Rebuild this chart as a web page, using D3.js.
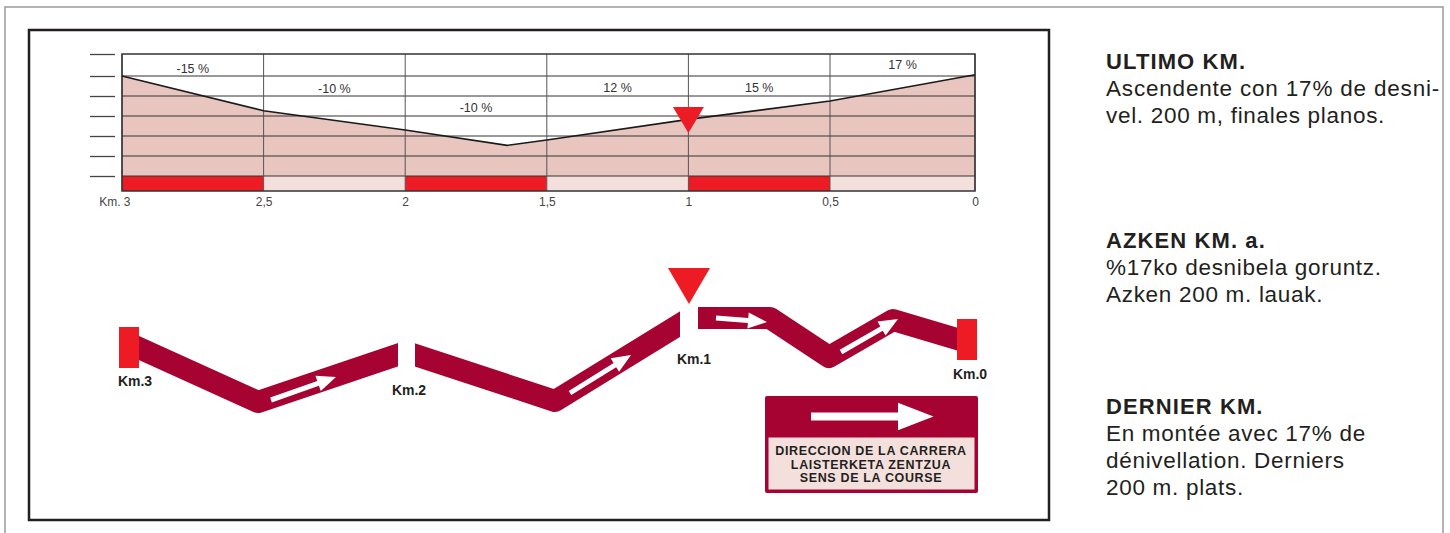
<!DOCTYPE html>
<html>
<head>
<meta charset="utf-8">
<script src="https://cdn.jsdelivr.net/npm/d3@7"></script>
<style>
body { margin: 0; background: #fff; }
svg { display: block; font-family: "Liberation Sans", Arial, sans-serif; }
</style>
</head>
<body>
<svg id="chart" width="1450" height="533"></svg>
<script>
// ---- profile of the last 3 km ----
const kmTicks = [3, 2.5, 2, 1.5, 1, 0.5, 0];
const elevTicks = [0, 10, 20, 30, 40, 50, 61];
const profileKm = [3, 2.5, 2, 1.64, 1.5, 1, 0.5, 0];
const profileElev = [50, 32.6, 23, 15.3, 18, 28.3, 37.5, 50.6];
const gradeLabels = ["-15 %", "-10 %", "-10 %", "12 %", "15 %", "17 %"];
const gradeLabelElev = [53.5, 43.5, 34, 44, 44, 55.5];
const flammeRougeKm = 1;

// ---- route map (schematic units) ----
const routeX = [29, 158, 306, 455, 590, 670, 729, 793, 867];
const routeY = [83.5, 142, 92, 141, 58, 58, 97, 60, 82];
const routeGaps = [[298, 315], [580, 598]];
const kmLabels = ["Km.3", "Km.2", "Km.1", "Km.0"];
const kmLabelX = [35, 309, 594, 870];
const kmLabelY = [121, 130, 99, 114];
const endMarkerX = [29, 867];
const endMarkerY = [87.5, 79.5];
const arrowFrom = [[171, 140], [470, 133], [616, 58], [741, 92]];
const arrowTo = [[236, 117], [531, 95], [667, 62], [798, 59]];

const legendLines = ["DIRECCION DE LA CARRERA", "LAISTERKETA ZENTZUA", "SENS DE LA COURSE"];

const notes = [
    {title: "ULTIMO KM.", lines: ["Ascendente con 17% de desni-", "vel. 200 m, finales planos."]},
    {title: "AZKEN KM. a.", lines: ["%17ko desnibela goruntz.", "Azken 200 m. lauak."]},
    {title: "DERNIER KM.", lines: ["En montée avec 17% de", "dénivellation. Derniers", "200 m. plats."]}
];

const red = "#ed1c24";
const wine = "#a60333";
const pink = "#f3e0dd";
const fillColor = "#e9c5bf";
const ink = "#231f20";

const svg = d3.select("#chart");

// frames
svg.append("path")
    .attr("d", "M5,540 V7 H1443 V540")
    .attr("fill", "none")
    .attr("stroke", "#9a9a9a")
    .attr("stroke-width", 1.5);
svg.append("rect")
    .attr("x", 29).attr("y", 30)
    .attr("width", 1020).attr("height", 490)
    .attr("fill", "none")
    .attr("stroke", ink)
    .attr("stroke-width", 2.5);

// ---------- profile ----------
// the last half km is drawn a touch wider in the original
const x = d3.scaleLinear().domain([3, 0.5, 0]).range([122, 830, 975]);
const y = d3.scaleLinear().domain([0, 50]).range([176, 76]);
const bandH = 15;
const plotTop = y(d3.max(elevTicks));
const base = y(0);

const prof = svg.append("g");
const pts = profileKm.map((k, i) => ({km: k, e: profileElev[i]}));

prof.append("path")
    .datum(pts)
    .attr("fill", fillColor)
    .attr("d", d3.area().x(d => x(d.km)).y0(base).y1(d => y(d.e)));

// coloured band under the profile
prof.selectAll("rect.band")
    .data(d3.range(kmTicks.length - 1))
    .enter()
    .append("rect")
        .attr("class", "band")
        .attr("x", i => x(kmTicks[i]))
        .attr("y", base)
        .attr("width", i => x(kmTicks[i + 1]) - x(kmTicks[i]))
        .attr("height", bandH)
        .attr("fill", i => i % 2 == 0 ? red : pink);

// grid
prof.selectAll("line.h")
    .data(elevTicks.slice(0, -1))
    .enter()
    .append("line")
        .attr("x1", x(3)).attr("x2", x(0))
        .attr("y1", d => y(d)).attr("y2", d => y(d))
        .attr("stroke", "#333").attr("stroke-width", 1);
prof.selectAll("line.v")
    .data(kmTicks)
    .enter()
    .append("line")
        .attr("x1", d => x(d)).attr("x2", d => x(d))
        .attr("y1", plotTop).attr("y2", base + bandH)
        .attr("stroke", "#555").attr("stroke-width", 1);
prof.append("rect")
    .attr("x", x(3)).attr("y", plotTop)
    .attr("width", x(0) - x(3)).attr("height", base + bandH - plotTop)
    .attr("fill", "none").attr("stroke", "#333").attr("stroke-width", 1.5);

prof.append("path")
    .datum(pts)
    .attr("fill", "none")
    .attr("stroke", "#1a1a1a")
    .attr("stroke-width", 1.6)
    .attr("d", d3.line().x(d => x(d.km)).y(d => y(d.e)));

prof.selectAll("text.grade")
    .data(gradeLabels)
    .enter()
    .append("text")
        .attr("x", (d, i) => (x(kmTicks[i]) + x(kmTicks[i + 1])) / 2)
        .attr("y", (d, i) => y(gradeLabelElev[i]))
        .attr("dy", "0.35em")
        .attr("text-anchor", "middle")
        .attr("font-size", 12.5)
        .attr("fill", "#333")
        .text(d => d);

// flamme rouge on the profile
const frY = y(d3.scaleLinear().domain(profileKm).range(profileElev)(flammeRougeKm));
prof.append("path")
    .attr("d", `M${x(flammeRougeKm) - 15.5},${frY - 12.5} h31 L${x(flammeRougeKm)},${frY + 13.5}Z`)
    .attr("fill", red);

// left ticks
prof.append("g")
    .attr("transform", "translate(115,0)")
    .call(d3.axisLeft(y).tickValues(elevTicks).tickSize(25).tickFormat(""))
    .call(g => g.select(".domain").remove())
    .selectAll("line").attr("stroke", "#444").attr("stroke-width", 1.3);

// km axis labels
const xa = prof.append("g")
    .attr("transform", `translate(0,${base + bandH})`)
    .call(d3.axisBottom(x).tickValues(kmTicks).tickSize(0).tickPadding(6)
        .tickFormat(d => d == 3 ? "Km. 3" : String(d).replace(".", ",")));
xa.select(".domain").remove();
xa.selectAll("text")
    .attr("font-size", 12)
    .attr("font-family", "Liberation Sans, Arial, sans-serif")
    .attr("fill", "#444");
xa.selectAll("text").filter(d => d == 3)
    .attr("text-anchor", "end").attr("x", 8);

// ---------- route map ----------
const mx = d3.scaleLinear().domain([0, 900]).range([100, 1000]);
const my = d3.scaleLinear().domain([0, 200]).range([260, 460]);
const route = svg.append("g");

const clip = svg.append("defs").append("clipPath").attr("id", "routeclip");
const cuts = [-100].concat(routeGaps.flat()).concat([1100]);
for (let i = 0; i < cuts.length; i += 2) {
    clip.append("rect")
        .attr("x", mx(cuts[i])).attr("y", 0)
        .attr("width", mx(cuts[i + 1]) - mx(cuts[i]))
        .attr("height", 533);
}

route.append("path")
    .datum(routeX.map((v, i) => [v, routeY[i]]))
    .attr("clip-path", "url(#routeclip)")
    .attr("fill", "none")
    .attr("stroke", wine)
    .attr("stroke-width", 22)
    .attr("stroke-linejoin", "round")
    .attr("d", d3.line().x(d => mx(d[0])).y(d => my(d[1])));

route.selectAll("rect.end")
    .data(endMarkerX)
    .enter()
    .append("rect")
        .attr("x", d => mx(d) - 10)
        .attr("y", (d, i) => my(endMarkerY[i]) - 20.5)
        .attr("width", 20).attr("height", 41)
        .attr("fill", red);

// arrows along the route
function arrowPath(p0, p1, shaft, headL, headW) {
    const dx = p1[0] - p0[0], dy = p1[1] - p0[1];
    const len = Math.hypot(dx, dy);
    const ux = dx / len, uy = dy / len, nx = -uy, ny = ux;
    const bx = p1[0] - ux * headL, by = p1[1] - uy * headL;
    const P = (px, py) => `${px.toFixed(1)},${py.toFixed(1)}`;
    return "M" + [
        P(p0[0] + nx * shaft / 2, p0[1] + ny * shaft / 2),
        P(bx + nx * shaft / 2, by + ny * shaft / 2),
        P(bx + nx * headW / 2, by + ny * headW / 2),
        P(p1[0], p1[1]),
        P(bx - nx * headW / 2, by - ny * headW / 2),
        P(bx - nx * shaft / 2, by - ny * shaft / 2),
        P(p0[0] - nx * shaft / 2, p0[1] - ny * shaft / 2)
    ].join("L") + "Z";
}
route.selectAll("path.arrow")
    .data(arrowFrom)
    .enter()
    .append("path")
        .attr("fill", "#fff")
        .attr("d", (d, i) => arrowPath([mx(d[0]), my(d[1])], [mx(arrowTo[i][0]), my(arrowTo[i][1])], 5, 19, 16));

// flamme rouge on the map
const frMapX = mx(routeGaps[1][0] + (routeGaps[1][1] - routeGaps[1][0]) / 2);
route.append("path")
    .attr("d", `M${frMapX - 21},${my(8)} h42 L${frMapX},${my(44)}Z`)
    .attr("fill", red);

route.selectAll("text.km")
    .data(kmLabels)
    .enter()
    .append("text")
        .attr("x", (d, i) => mx(kmLabelX[i]))
        .attr("y", (d, i) => my(kmLabelY[i]))
        .attr("dy", "0.35em")
        .attr("text-anchor", "middle")
        .attr("font-weight", "bold")
        .attr("font-size", 14)
        .attr("fill", ink)
        .text(d => d);

// legend box
const lg = svg.append("g").attr("transform", "translate(765,396)");
lg.append("rect").attr("width", 213).attr("height", 97).attr("rx", 2).attr("fill", wine);
lg.append("rect").attr("x", 3.5).attr("y", 41.5).attr("width", 206).attr("height", 52).attr("fill", pink);
lg.append("path")
    .attr("fill", "#fff")
    .attr("d", arrowPath([46, 20.5], [168.5, 20.5], 8, 35.5, 27.5));
lg.selectAll("text")
    .data(legendLines)
    .enter()
    .append("text")
        .attr("x", 106)
        .attr("y", (d, i) => 55 + i * 13.4)
        .attr("dy", "0.35em")
        .attr("text-anchor", "middle")
        .attr("font-weight", "bold")
        .attr("font-size", 12.5)
        .attr("letter-spacing", 0.65)
        .attr("fill", ink)
        .text(d => d);

// ---------- notes on the right ----------
const noteTop = [69, 248, 414];
const lineStep = 27;
notes.forEach((n, i) => {
    const g = svg.append("g").attr("transform", `translate(1106,${noteTop[i]})`);
    g.append("text")
        .attr("font-weight", "bold")
        .attr("font-size", 22)
        .attr("letter-spacing", 1.1)
        .attr("fill", ink)
        .text(n.title);
    g.selectAll("text.l")
        .data(n.lines)
        .enter()
        .append("text")
            .attr("class", "l")
            .attr("y", (d, j) => (j + 1) * lineStep)
            .attr("font-size", 22.5)
            .attr("letter-spacing", 0.7)
            .attr("fill", ink)
            .text(d => d);
});
// first line of the Spanish note is justified to the column
svg.selectAll("text.l").filter(d => d == notes[0].lines[0])
    .attr("textLength", 334).attr("lengthAdjust", "spacing");
</script>
</body>
</html>
